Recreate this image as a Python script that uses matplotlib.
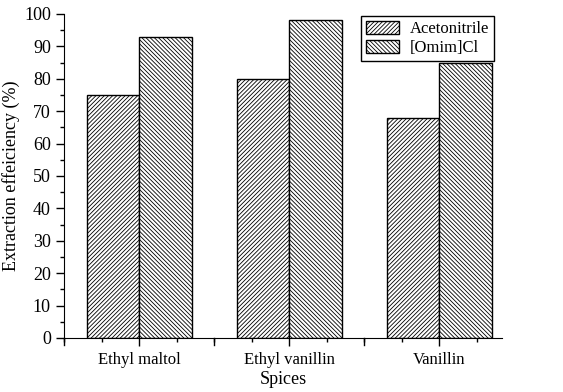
import matplotlib
matplotlib.use('Agg')
import matplotlib.pyplot as plt
import numpy as np
from matplotlib.ticker import MultipleLocator

plt.rcParams['font.family'] = ['Liberation Serif', 'DejaVu Serif']
plt.rcParams['hatch.linewidth'] = 0.6

spices = ['Ethyl maltol', 'Ethyl vanillin', 'Vanillin']
acetonitrile = [75, 80, 68]
omim_cl = [93, 98, 85]

x = np.arange(1, len(spices) + 1)
w = 0.35

fig = plt.figure(figsize=(5.63, 3.92), dpi=100)
ax = fig.add_axes([0.1137, 0.1378, 0.778, 0.8265])

ax.bar(x - w / 2, acetonitrile, w, color='white', edgecolor='black', hatch='////////',
       linewidth=1.0, label='Acetonitrile')
ax.bar(x + w / 2, omim_cl, w, color='white', edgecolor='black', hatch='\\' * 8,
       linewidth=1.0, label='[Omim]Cl')

ax.set_xlim(0.5, 3.42)
ax.set_ylim(0, 100)
ax.set_xticks(x)
ax.set_xticklabels(spices)
ax.xaxis.set_minor_locator(MultipleLocator(0.25))
ax.yaxis.set_major_locator(MultipleLocator(10))
ax.yaxis.set_minor_locator(MultipleLocator(5))
# extra long ticks between categories
for xb in [0.5, 1.5, 2.5]:
    ax.plot([xb, xb], [0, -2.2], color='black', lw=1, clip_on=False)

ax.spines['top'].set_visible(False)
ax.spines['right'].set_visible(False)
ax.tick_params(axis='both', which='major', direction='out', length=6, width=1, labelsize=12)
ax.tick_params(axis='y', which='major', labelsize=13)
ax.tick_params(axis='both', which='minor', direction='out', length=3, width=1)
ax.tick_params(axis='x', which='major', pad=4)

ax.set_xlabel('Spices', fontsize=13, labelpad=2)
ax.set_ylabel('Extraction effeiciency (%)', fontsize=13, labelpad=3)

leg = ax.legend(loc='upper right', bbox_to_anchor=(0.985, 1.0), fontsize=12,
                fancybox=False, edgecolor='black', framealpha=1,
                handlelength=2.0, handleheight=0.85, borderpad=0.3,
                labelspacing=0.15, handletextpad=0.6, borderaxespad=0.1)
leg.get_frame().set_linewidth(1.0)

fig.savefig('out.png', dpi=100)
